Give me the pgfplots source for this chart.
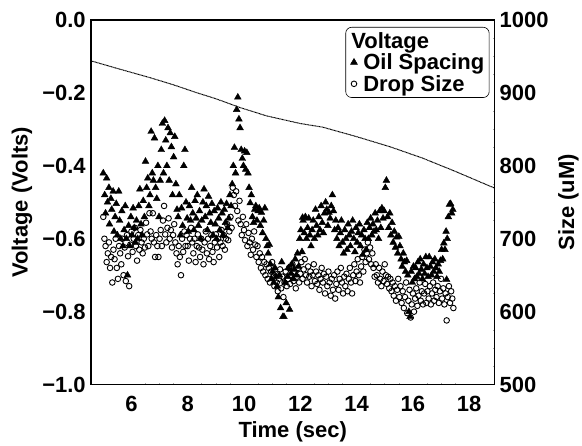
\documentclass[border=0pt]{standalone}
\usepackage{fontspec}
\setmainfont{Liberation Sans}
\usepackage{pgfplots}
\pgfplotsset{compat=1.18}
\begin{document}
\begin{tikzpicture}
\pgfplotsset{
  base/.style={
    scale only axis, width=404pt, height=365pt,
    xmin=4.56, xmax=18.9,
    axis line style={line width=1.6pt},
    /pgf/number format/assume math mode=true,
    /pgf/number format/1000 sep={},
    tick label style={font=\bfseries\fontsize{22}{24}\selectfont},
    label style={font=\bfseries\fontsize{22}{24}\selectfont},
    major tick length=0pt,
    minor tick length=1.5pt,
    minor tick style={gray!70, line width=0.6pt},
    tick align=inside,
  }
}
\begin{axis}[base, name=ax,
  ymin=-1, ymax=0,
  ytick={-1,-0.8,-0.6,-0.4,-0.2,0},
  yticklabels={−1.0,−0.8,−0.6,−0.4,−0.2,0.0},
  xtick={6,8,10,12,14,16,18},
  xticklabels={6,8,10,12,14,16,18},
  minor x tick num=3,
  minor y tick num=3,
  ytick pos=left, xtick pos=bottom,
  yticklabel style={anchor=east, inner sep=0pt, inner xsep=5pt},
  xticklabel style={anchor=center, yshift=-19pt},
  xlabel={Time (sec)},
  xlabel style={at={(axis description cs:0.5,-0.1288)}, anchor=center},
  ylabel={Voltage (Volts)},
  ylabel style={at={(axis description cs:-0.1708,0.5)}, anchor=center},
]
\addplot[black, line width=1pt, dash pattern=on 0.9pt off 0.5pt] coordinates {
(4.56,-0.112) (5.5,-0.133) (6.65,-0.158) (7.5,-0.178) (8.3,-0.199) (9.0,-0.216)
(9.85,-0.240) (10.8,-0.263) (11.6,-0.277) (12.0,-0.284) (12.8,-0.294)
(14.0,-0.320) (15.2,-0.348) (16.35,-0.379) (17.5,-0.415) (18.9,-0.461)};
\end{axis}
\begin{axis}[base,
  ymin=500, ymax=1000,
  ytick={500,600,700,800,900,1000},
  yticklabels={500,600,700,800,900,1000},
  hide x axis,
  axis y line*=right,
  minor y tick num=3,
  yticklabel style={anchor=west, inner sep=0pt, inner xsep=5pt},
  ylabel={Size (uM)},
  ylabel style={at={(axis description cs:1.1832,0.5)}, anchor=center, rotate=0},
  legend style={at={(axis description cs:0.9876,0.9808)}, anchor=north east,
    draw=black, line width=0.6pt, rounded corners=6pt,
    font=\bfseries\fontsize{22}{21}\selectfont,
    inner xsep=3pt, inner ysep=3pt, row sep=0pt, column sep=2pt,
    cells={anchor=west}},
  legend image code/.code={\draw[mark repeat=2,mark phase=2,#1] plot coordinates {(0pt,0pt) (5pt,0pt) (10pt,0pt)};},
]
\addlegendimage{legend image code/.code={\path (0pt,0pt) (10pt,0pt);}}
\addlegendentry{\hspace*{-12pt}Voltage}
\addplot[only marks, mark=triangle*, mark size=3.9pt, black] coordinates {
(5.00,790) (5.05,760) (5.08,735) (5.12,783) (5.15,750) (5.20,770) (5.22,720) (5.27,755) (5.30,740) (5.35,765) (5.38,710) (5.42,730) (5.46,748) (5.50,705)
(5.55,765) (5.58,725) (5.62,700) (5.66,738) (5.70,690) (5.74,712) (5.78,745) (5.82,700) (5.86,650) (5.90,718) (5.94,690) (5.98,730) (6.02,705) (6.06,742)
(6.10,715) (6.14,695) (6.18,725) (6.22,700) (6.26,745) (6.30,768) (6.34,720) (6.38,705) (6.42,752) (6.46,730) (6.50,806) (6.54,770) (6.58,783) (6.62,745)
(6.66,760) (6.70,847) (6.74,790) (6.78,780) (6.82,838) (6.86,770) (6.90,755) (6.94,800) (6.98,730) (7.02,780) (7.06,822) (7.10,858) (7.14,790) (7.18,862)
(7.22,835) (7.26,800) (7.30,852) (7.34,780) (7.38,845) (7.42,826) (7.46,760) (7.50,812) (7.54,840) (7.58,775) (7.62,740) (7.66,730) (7.70,760) (7.74,705)
(7.78,742) (7.82,718) (7.86,800) (7.90,822) (7.94,750) (7.98,728) (8.02,710) (8.06,745) (8.10,725) (8.14,770) (8.18,735) (8.22,712) (8.26,752) (8.30,728)
(8.34,760) (8.38,718) (8.42,738) (8.46,700) (8.50,725) (8.54,750) (8.58,768) (8.62,730) (8.66,745) (8.70,712) (8.74,758) (8.78,735) (8.82,722) (8.86,748)
(8.90,705) (8.94,738) (8.98,720) (9.02,700) (9.06,742) (9.10,728) (9.14,712) (9.18,750) (9.22,735) (9.26,705) (9.30,740) (9.34,722) (9.38,748) (9.42,715)
(9.46,728) (9.50,760) (9.54,745) (9.58,775) (9.62,800) (9.66,825) (9.70,790) (9.74,877) (9.78,894) (9.82,864) (9.86,852) (9.90,822) (9.94,810) (9.98,800)
(10.02,820) (10.06,795) (10.10,818) (10.14,790) (10.18,770) (10.22,749) (10.26,760) (10.30,730) (10.34,722) (10.38,740) (10.42,745) (10.46,725) (10.50,738)
(10.54,742) (10.58,718) (10.62,736) (10.66,708) (10.70,725) (10.74,742) (10.78,700) (10.82,690) (10.86,680) (10.90,692) (10.94,665) (10.98,645) (11.02,655)
(11.06,640) (11.10,660) (11.14,648) (11.18,635) (11.22,620) (11.26,650) (11.30,605) (11.34,668) (11.38,593) (11.42,593) (11.46,640) (11.50,612) (11.54,648)
(11.58,660) (11.62,603) (11.66,652) (11.70,665) (11.74,645) (11.78,658) (11.82,672) (11.86,650) (11.90,680) (11.94,662) (11.98,700) (12.02,712) (12.06,682)
(12.08,729) (12.10,725) (12.14,708) (12.18,730) (12.22,700) (12.26,715) (12.30,728) (12.34,705) (12.38,690) (12.42,712) (12.46,725) (12.50,700) (12.54,740)
(12.58,718) (12.62,705) (12.66,730) (12.70,712) (12.74,745) (12.78,722) (12.82,708) (12.86,735) (12.90,750) (12.94,740) (12.98,718) (13.02,736) (13.06,728)
(13.10,745) (13.14,760) (13.18,738) (13.22,712) (13.26,725) (13.30,700) (13.34,715) (13.38,690) (13.42,708) (13.46,725) (13.50,695) (13.54,680) (13.58,712)
(13.62,700) (13.66,685) (13.70,720) (13.74,705) (13.78,690) (13.82,710) (13.86,725) (13.90,700) (13.94,682) (13.98,715) (14.02,695) (14.06,708) (14.10,720)
(14.14,690) (14.18,705) (14.22,678) (14.26,712) (14.30,700) (14.34,685) (14.38,722) (14.42,700) (14.46,715) (14.50,728) (14.54,705) (14.58,720) (14.62,710)
(14.66,735) (14.70,712) (14.74,725) (14.78,700) (14.82,738) (14.86,715) (14.90,742) (14.94,728) (14.98,738) (15.02,770) (15.06,780) (15.10,730) (15.14,715)
(15.18,735) (15.22,705) (15.26,722) (15.30,695) (15.34,710) (15.38,688) (15.42,702) (15.46,680) (15.50,703) (15.54,690) (15.58,672) (15.62,662) (15.66,680)
(15.70,668) (15.74,655) (15.78,670) (15.82,650) (15.86,600) (15.90,593) (15.94,655) (15.98,640) (16.02,662) (16.06,645) (16.10,660) (16.14,648) (16.18,668)
(16.22,652) (16.26,672) (16.30,658) (16.34,645) (16.38,665) (16.42,652) (16.46,675) (16.50,660) (16.54,648) (16.58,675) (16.62,662) (16.66,650) (16.70,668)
(16.74,655) (16.78,672) (16.82,660) (16.86,648) (16.90,665) (16.94,655) (16.98,670) (17.02,685) (17.06,672) (17.10,694) (17.14,685) (17.18,710) (17.20,644)
(17.22,700) (17.26,730) (17.30,747) (17.34,748) (17.38,735) (17.42,740)};
\addlegendentry{Oil Spacing}
\addplot[only marks, mark=o, mark size=2.8pt, black, line width=0.9pt] coordinates {
(5.00,730) (5.04,700) (5.08,690) (5.12,668) (5.16,680) (5.20,695) (5.24,660) (5.28,675) (5.32,640) (5.36,685) (5.40,672) (5.44,700) (5.48,660) (5.52,645)
(5.56,690) (5.60,680) (5.64,665) (5.68,700) (5.72,650) (5.76,688) (5.80,642) (5.84,705) (5.88,676) (5.92,635) (5.96,692) (6.00,710) (6.04,682) (6.08,700)
(6.12,715) (6.16,690) (6.20,670) (6.24,705) (6.28,685) (6.32,712) (6.36,695) (6.40,680) (6.44,700) (6.48,688) (6.52,722) (6.56,706) (6.60,690) (6.64,735)
(6.68,710) (6.72,700) (6.76,735) (6.80,695) (6.84,675) (6.88,705) (6.92,690) (6.96,675) (7.00,700) (7.04,712) (7.08,690) (7.12,725) (7.16,745) (7.20,706)
(7.24,695) (7.28,715) (7.32,728) (7.36,700) (7.40,712) (7.44,688) (7.48,705) (7.52,720) (7.56,695) (7.60,680) (7.64,665) (7.68,690) (7.72,675) (7.76,650)
(7.80,700) (7.84,682) (7.88,710) (7.92,690) (7.96,705) (8.00,690) (8.04,670) (8.08,700) (8.12,715) (8.16,695) (8.20,680) (8.24,700) (8.28,668) (8.32,690)
(8.36,706) (8.40,688) (8.44,675) (8.48,700) (8.52,685) (8.56,665) (8.60,695) (8.64,710) (8.68,680) (8.72,700) (8.76,672) (8.80,690) (8.84,705) (8.88,682)
(8.92,668) (8.96,695) (9.00,706) (9.04,688) (9.08,700) (9.12,675) (9.16,695) (9.20,712) (9.24,690) (9.28,705) (9.32,685) (9.36,700) (9.40,720) (9.44,698)
(9.48,710) (9.52,730) (9.56,715) (9.60,770) (9.64,760) (9.68,745) (9.72,765) (9.76,738) (9.80,725) (9.84,752) (9.88,720) (9.92,705) (9.96,730) (10.00,712)
(10.04,698) (10.08,720) (10.12,690) (10.16,708) (10.20,695) (10.24,678) (10.28,700) (10.32,685) (10.36,710) (10.40,692) (10.44,675) (10.48,690) (10.52,668)
(10.56,680) (10.60,660) (10.64,675) (10.68,655) (10.72,668) (10.76,650) (10.80,665) (10.84,645) (10.88,660) (10.92,640) (10.96,655) (11.00,668) (11.04,648)
(11.08,635) (11.12,652) (11.16,640) (11.20,628) (11.24,645) (11.28,658) (11.32,632) (11.36,648) (11.40,620) (11.44,640) (11.48,655) (11.52,635) (11.56,645)
(11.60,660) (11.64,638) (11.68,650) (11.72,665) (11.76,642) (11.80,655) (11.84,632) (11.88,648) (11.92,660) (11.96,640) (12.00,652) (12.04,668) (12.08,645)
(12.12,658) (12.16,672) (12.20,650) (12.24,640) (12.28,662) (12.32,648) (12.36,655) (12.40,635) (12.44,650) (12.48,665) (12.52,642) (12.56,655) (12.60,638)
(12.64,650) (12.68,630) (12.72,645) (12.76,660) (12.80,640) (12.84,652) (12.88,625) (12.92,648) (12.96,635) (13.00,655) (13.04,640) (13.08,622) (13.12,645)
(13.16,630) (13.20,650) (13.24,618) (13.28,638) (13.32,655) (13.36,630) (13.40,645) (13.44,660) (13.48,640) (13.52,625) (13.56,648) (13.60,635) (13.64,652)
(13.68,628) (13.72,645) (13.76,660) (13.80,640) (13.84,625) (13.88,650) (13.92,665) (13.96,642) (14.00,655) (14.04,672) (14.08,650) (14.12,640) (14.16,662)
(14.20,675) (14.24,655) (14.28,685) (14.32,668) (14.36,680) (14.40,695) (14.44,672) (14.48,688) (14.52,665) (14.56,680) (14.60,660) (14.64,648) (14.68,665)
(14.72,650) (14.76,640) (14.80,660) (14.84,645) (14.88,635) (14.92,655) (14.96,642) (15.00,665) (15.04,650) (15.08,638) (15.12,648) (15.16,632) (15.20,645)
(15.24,628) (15.28,640) (15.32,622) (15.36,635) (15.40,615) (15.44,630) (15.48,645) (15.52,620) (15.56,635) (15.60,612) (15.64,628) (15.68,605) (15.72,620)
(15.76,640) (15.80,598) (15.84,615) (15.88,630) (15.92,592) (15.96,610) (16.00,625) (16.04,600) (16.08,618) (16.12,632) (16.16,608) (16.20,622) (16.24,640)
(16.28,615) (16.32,628) (16.36,610) (16.40,625) (16.44,638) (16.48,612) (16.52,628) (16.56,618) (16.60,635) (16.64,610) (16.68,625) (16.72,640) (16.76,615)
(16.80,630) (16.84,620) (16.88,635) (16.92,612) (16.96,628) (17.00,645) (17.04,618) (17.08,632) (17.12,610) (17.16,625) (17.20,588) (17.24,620) (17.28,635)
(17.32,612) (17.36,628) (17.40,618) (17.44,605)};
\addlegendentry{Drop Size}
\end{axis}
\path (ax.south west) ++(-91pt,-59pt) rectangle ([xshift=87pt,yshift=20pt]ax.north east);
\end{tikzpicture}
\end{document}
